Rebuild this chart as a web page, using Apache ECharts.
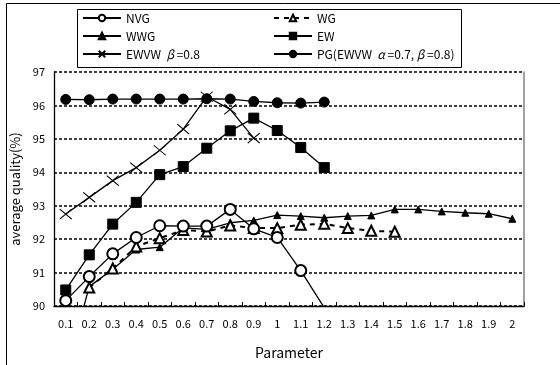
<!DOCTYPE html>
<html>
<head>
<meta charset="utf-8">
<script src="https://cdn.jsdelivr.net/npm/echarts@6/dist/echarts.min.js"></script>
<style>
html,body{margin:0;padding:0;background:#fff;}
#c{width:560px;height:365px;}
</style>
</head>
<body>
<div id="c"></div>
<script>
const categories = ['0.1','0.2','0.3','0.4','0.5','0.6','0.7','0.8','0.9','1','1.1','1.2','1.3','1.4','1.5','1.6','1.7','1.8','1.9','2'];
const yTicks = [90, 91, 92, 93, 94, 95, 96, 97];
const nvg  = [90.16, 90.88, 91.56, 92.05, 92.40, 92.39, 92.39, 92.89, 92.31, 92.05, 91.06, 89.95];
const wg   = [null, 90.55, 91.12, 91.78, 92.03, 92.27, 92.23, 92.41, 92.33, 92.33, 92.43, 92.46, 92.33, 92.25, 92.22];
const wwg  = [88.0, 90.58, 91.10, 91.69, 91.76, 92.34, 92.29, 92.49, 92.56, 92.72, 92.69, 92.64, 92.69, 92.71, 92.89, 92.89, 92.83, 92.79, 92.76, 92.61];
const ew   = [90.48, 91.53, 92.45, 93.10, 93.93, 94.17, 94.72, 95.24, 95.62, 95.25, 94.74, 94.14];
const ewvw = [92.75, 93.25, 93.75, 94.14, 94.66, 95.29, 96.26, 95.88, 95.02];
const pg   = [96.18, 96.17, 96.19, 96.19, 96.19, 96.19, 96.20, 96.19, 96.12, 96.08, 96.07, 96.10];

const names = {
  nvg: 'NVG', wg: 'WG', wwg: 'WWG', ew: 'EW',
  ewvw: 'EWVW β=0.8', pg: 'PG(EWVW α=0.7, β=0.8)'
};
const FONT = 'Noto Sans CJK JP';
const chart = echarts.init(document.getElementById('c'), null, {renderer: 'canvas'});

function mk(name, data, symbol, size, extra) {
  return Object.assign({
    name: name, type: 'line', data: data,
    symbol: symbol, symbolSize: size, showAllSymbol: true,
    connectNulls: false, clip: true,
    lineStyle: {color: '#000', width: 1.3},
    itemStyle: {color: '#000', borderColor: '#000', borderWidth: 1},
    emphasis: {disabled: true}, animation: false
  }, extra || {});
}

const legendFmt = function (n) {
  if (n === names.ewvw) return 'EWVW  {i|β} =0.8';
  if (n === names.pg) return 'PG(EWVW  {i|α} =0.7, {i|β} =0.8)';
  return n;
};
const legendText = {fontFamily: FONT, fontSize: 12, color: '#000', rich: {i: {fontFamily: FONT, fontSize: 12, fontStyle: 'italic', color: '#000'}}};

chart.setOption({
  backgroundColor: '#fff',
  animation: false,
  textStyle: {fontFamily: FONT},
  graphic: [
    {type: 'rect', shape: {x: 6.5, y: 3.5, width: 700, height: 500}, style: {fill: 'none', stroke: '#000', lineWidth: 1}, z: -10},
    {type: 'rect', shape: {x: 77.5, y: 9.5, width: 384, height: 58}, style: {fill: '#fff', stroke: '#000', lineWidth: 1}, z: -5}
  ],
  legend: [
    {data: [names.nvg, names.wwg, names.ewvw], orient: 'vertical', left: 82, top: 12,
     itemWidth: 38, itemHeight: 8, itemGap: 6, padding: 0, selectedMode: false,
     formatter: legendFmt, textStyle: legendText},
    {data: [names.wg, names.ew, names.pg], orient: 'vertical', left: 273, top: 12,
     itemWidth: 38, itemHeight: 8, itemGap: 6, padding: 0, selectedMode: false,
     formatter: legendFmt, textStyle: legendText}
  ],
  grid: {left: 54, right: 36, top: 72, bottom: 57, containLabel: false},
  xAxis: {
    type: 'category', data: categories, boundaryGap: true,
    name: 'Parameter', nameLocation: 'middle', nameGap: 40,
    nameTextStyle: {fontFamily: FONT, fontSize: 14, color: '#000'},
    axisLine: {show: true, lineStyle: {color: '#000', width: 1.3}},
    axisTick: {show: true, inside: true, length: 4, alignWithLabel: false, lineStyle: {color: '#000'}},
    axisLabel: {interval: 0, fontFamily: FONT, fontSize: 11, color: '#000', margin: 12},
    splitLine: {show: false}
  },
  yAxis: [
    {
      type: 'value', min: 90, max: 97, interval: 1,
      name: 'average quality(%)', nameLocation: 'middle', nameGap: 30, nameRotate: 90,
      nameTextStyle: {fontFamily: FONT, fontSize: 13, color: '#000'},
      axisLine: {show: true, lineStyle: {color: '#000', width: 1.3}},
      axisTick: {show: false},
      axisLabel: {fontFamily: FONT, fontSize: 11, color: '#000', margin: 9,
        formatter: function (v) { return yTicks.indexOf(v) >= 0 ? String(v) : ''; }},
      splitLine: {show: true, lineStyle: {color: '#000', width: 1.5, type: [3, 2]}}
    },
    {
      type: 'value', min: 90, max: 97, interval: 1, position: 'right',
      axisLine: {show: true, lineStyle: {color: '#808080', width: 1.5}},
      axisTick: {show: false}, axisLabel: {show: false}, splitLine: {show: false}
    }
  ],
  series: [
    mk(names.pg, pg, 'circle', 10),
    mk(names.ewvw, ewvw, 'path://M0,0L12,10M12,0L0,10', [12, 10], {
      itemStyle: {color: 'rgba(0,0,0,0)', borderColor: '#000', borderWidth: 1}
    }),
    mk(names.ew, ew, 'rect', 10),
    mk(names.wwg, wwg, 'triangle', 7),
    mk(names.wg, wg, 'emptyTriangle', 10, {
      lineStyle: {color: '#000', width: 2, type: [5, 5]},
      itemStyle: {color: '#000', borderColor: '#000', borderWidth: 1}
    }),
    mk(names.nvg, nvg, 'emptyCircle', 11, {
      itemStyle: {color: '#000', borderColor: '#000', borderWidth: 1}
    })
  ]
});
</script>
</body>
</html>
